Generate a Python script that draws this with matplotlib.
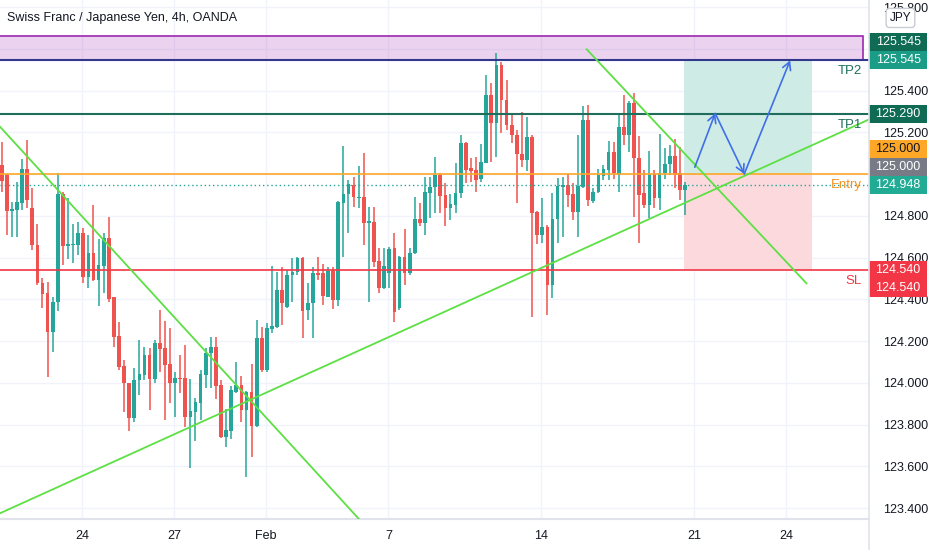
import numpy as np
import matplotlib.pyplot as plt
from matplotlib.patches import Rectangle
import matplotlib.transforms as mtransforms

plt.rcParams['font.family'] = ['Liberation Sans', 'DejaVu Sans']

# CHF/JPY 4h bars, index = bar number
opens = [125.044, 124.996, 124.824, 124.828, 124.863, 125.023, 124.836, 124.661, 124.480, 124.429,
         124.246, 124.389, 124.905, 124.656, 124.659, 124.661, 124.720, 124.509, 124.621, 124.493,
         124.560, 124.693, 124.410, 124.225, 124.081, 123.999, 123.831, 124.014, 124.038, 124.134,
         124.018, 124.193, 124.167, 124.091, 124.001, 124.025, 124.022, 123.838, 123.862, 123.906,
         124.038, 124.142, 124.171, 123.990, 123.743, 123.771, 123.958, 123.990, 123.871, 123.958,
         123.794, 124.214, 124.062, 124.257, 124.269, 124.445, 124.365, 124.517, 124.533, 124.597,
         124.349, 124.382, 124.528, 124.525, 124.413, 124.538, 124.397, 124.863, 124.905, 124.948,
         124.884, 124.889, 124.768, 124.772, 124.586, 124.453, 124.528, 124.645, 124.358, 124.602,
         124.528, 124.621, 124.784, 124.765, 124.911, 124.937, 124.996, 124.900, 124.836, 124.852,
         124.908, 125.151, 125.028, 125.020, 124.975, 125.055, 125.379, 125.244, 125.523, 125.355,
         125.235, 125.188, 125.097, 125.068, 125.177, 124.820, 124.709, 124.748, 124.469, 124.784,
         124.940, 124.948, 124.905, 124.820, 124.940, 125.259, 124.873, 124.916, 124.991, 125.020,
         125.108, 124.996, 125.227, 125.188, 125.339, 125.076, 124.908, 124.852, 125.001, 124.884,
         125.007, 125.049, 125.087, 125.004, 124.924]
highs = [125.155, 125.000, 124.868, 124.964, 125.073, 125.164, 124.932, 124.761, 124.501, 124.485,
         124.413, 125.007, 124.916, 124.884, 124.761, 124.772, 124.741, 124.709, 124.852, 124.688,
         124.717, 124.796, 124.412, 124.293, 124.110, 124.002, 124.070, 124.206, 124.172, 124.167,
         124.206, 124.349, 124.297, 124.263, 124.054, 124.134, 124.182, 124.018, 123.928, 124.062,
         124.167, 124.219, 124.219, 124.014, 123.874, 123.985, 124.102, 124.033, 123.960, 124.091,
         124.302, 124.267, 124.289, 124.560, 124.533, 124.557, 124.541, 124.597, 124.605, 124.605,
         124.477, 124.557, 124.605, 124.570, 124.557, 124.557, 124.870, 125.135, 124.972, 124.985,
         125.039, 125.103, 124.844, 124.844, 124.645, 124.645, 124.650, 124.720, 124.608, 124.736,
         124.645, 124.889, 124.860, 124.988, 124.988, 125.081, 125.004, 124.959, 124.905, 125.052,
         125.188, 125.155, 125.076, 125.081, 125.144, 125.475, 125.435, 125.582, 125.539, 125.451,
         125.283, 125.211, 125.299, 125.275, 125.188, 124.825, 124.884, 124.757, 124.908, 124.980,
         124.988, 125.001, 124.956, 125.188, 125.326, 125.331, 124.932, 125.023, 125.044, 125.160,
         125.155, 125.283, 125.379, 125.352, 125.387, 125.183, 125.020, 125.112, 125.020, 125.192,
         125.124, 125.140, 125.167, 125.131, 124.964]
lows = [124.916, 124.709, 124.700, 124.700, 124.828, 124.836, 124.637, 124.470, 124.358, 124.027,
        124.150, 124.346, 124.565, 124.592, 124.576, 124.613, 124.480, 124.453, 124.490, 124.369,
        124.429, 124.389, 124.174, 124.062, 123.862, 123.771, 123.815, 123.942, 124.014, 123.871,
        123.999, 124.054, 123.823, 123.904, 123.838, 123.952, 123.790, 123.591, 123.720, 123.823,
        123.976, 123.974, 123.922, 123.736, 123.695, 123.730, 123.950, 123.815, 123.551, 123.644,
        123.790, 124.054, 124.054, 124.238, 124.262, 124.278, 124.360, 124.389, 124.517, 124.214,
        124.302, 124.214, 124.493, 124.373, 124.410, 124.353, 124.369, 124.605, 124.717, 124.844,
        124.836, 124.661, 124.389, 124.557, 124.429, 124.450, 124.453, 124.293, 124.349, 124.469,
        124.517, 124.618, 124.752, 124.709, 124.789, 124.813, 124.815, 124.752, 124.780, 124.815,
        124.884, 124.959, 124.964, 124.916, 124.964, 125.052, 125.060, 125.081, 125.196, 125.211,
        125.148, 124.863, 125.036, 125.017, 124.314, 124.666, 124.669, 124.326, 124.405, 124.669,
        124.700, 124.844, 124.780, 124.700, 124.932, 124.847, 124.863, 124.911, 124.972, 124.972,
        124.975, 124.916, 125.140, 125.108, 124.796, 124.669, 124.836, 124.789, 124.836, 124.828,
        124.975, 124.996, 124.932, 124.876, 124.804]
closes = [124.969, 124.825, 124.833, 124.868, 125.023, 124.876, 124.661, 124.477, 124.426, 124.246,
          124.389, 124.905, 124.656, 124.666, 124.666, 124.720, 124.509, 124.621, 124.493, 124.565,
          124.693, 124.401, 124.222, 124.078, 123.998, 123.832, 124.014, 124.042, 124.134, 124.018,
          124.193, 124.161, 124.086, 124.001, 124.025, 124.018, 123.838, 123.867, 123.910, 124.042,
          124.145, 124.171, 123.985, 123.743, 123.775, 123.966, 123.990, 123.871, 123.958, 123.794,
          124.214, 124.062, 124.262, 124.273, 124.445, 124.382, 124.517, 124.533, 124.597, 124.346,
          124.382, 124.525, 124.517, 124.416, 124.538, 124.397, 124.868, 124.905, 124.953, 124.892,
          124.892, 124.765, 124.776, 124.581, 124.453, 124.560, 124.640, 124.341, 124.602, 124.528,
          124.621, 124.784, 124.765, 124.916, 124.937, 124.996, 124.895, 124.836, 124.857, 124.911,
          125.151, 125.020, 125.017, 124.972, 125.060, 125.379, 125.244, 125.523, 125.355, 125.235,
          125.188, 125.097, 125.068, 125.177, 124.815, 124.709, 124.748, 124.469, 124.784, 124.943,
          124.948, 124.900, 124.820, 124.943, 125.259, 124.876, 124.916, 124.996, 125.023, 125.108,
          125.004, 125.227, 125.188, 125.339, 125.076, 124.900, 124.852, 125.001, 124.884, 125.007,
          125.049, 125.087, 124.996, 124.924, 124.948]

# date labels on the time axis (bar positions)
date_ticks = [15.84, 33.84, 51.84, 75.84, 105.84, 135.84, 153.84]
date_labels = ['24', '27', 'Feb', '7', '14', '21', '24']
price_grid = [123.4, 123.6, 123.8, 124.0, 124.2, 124.4, 124.6, 124.8, 125.0, 125.2, 125.4, 125.6, 125.8]
# scale labels not hidden under the price tags
price_labels = [123.4, 123.6, 123.8, 124.0, 124.2, 124.4, 124.6, 124.8, 125.2, 125.4, 125.8]

# trade levels
tp2 = 125.545
tp1 = 125.290
entry = 125.000
last_price = 124.948
sl = 124.540
zone_top = 125.662
zone_right = 168.9
rr_left, rr_right = 133.8, 158.8

# drawings: (bar, price) anchors
trend_down1 = [(-0.33, 125.227), (70.1, 123.347)]
trend_up = [(-0.33, 123.376), (170.06, 125.262)]
trend_down2 = [(114.7, 125.598), (157.8, 124.477)]
path_bars = [135.9, 139.9, 145.6, 154.6]
path_prices = [125.033, 125.291, 125.001, 125.545]

UP = '#26a69a'
DOWN = '#ef5350'
TXT = '#131722'
GREEN = '#5ce043'

fig = plt.figure(figsize=(9.32, 5.5), dpi=100)
ax = fig.add_axes([0, 30.7 / 550, 869 / 932, 519.3 / 550])
ax.set_xlim(-0.333, 170.06)
ax.set_ylim(123.347, 125.834)

# candles
x = np.arange(len(opens))
o = np.array(opens); c = np.array(closes)
cols = [UP if cc >= oo else DOWN for oo, cc in zip(o, c)]
ax.vlines(x, lows, highs, colors=cols, lw=1.1, zorder=3)
body = np.maximum(np.abs(c - o), 0.005)
ax.bar(x, body, bottom=np.minimum(o, c), width=0.72, color=cols, lw=0, zorder=3)

# zone on top
ax.add_patch(Rectangle((-1, tp2), zone_right + 1, zone_top - tp2,
                       fc=(0.61, 0.15, 0.69, 0.2), ec='#9c27b0', lw=1.2, zorder=2))

# long position box
ax.add_patch(Rectangle((rr_left, entry), rr_right - rr_left, tp2 - entry,
                       fc='#cfebe6', ec='none', zorder=1))
ax.add_patch(Rectangle((rr_left, sl), rr_right - rr_left, entry - sl,
                       fc='#fcd9dc', ec='none', zorder=1))

# horizontal levels
ax.axhline(tp2, color='#32398c', lw=1.5, zorder=4)
ax.axhline(tp1, color='#1f6e5c', lw=1.5, zorder=4)
ax.axhline(entry, color='#ffa726', lw=1.2, zorder=4)
ax.axhline(sl, color='#f23645', lw=1.2, zorder=4)
ax.axhline(last_price, color=UP, lw=1, ls=(0, (1, 2)), zorder=4)

# trend lines
for ln in (trend_down1, trend_up, trend_down2):
    ax.plot([ln[0][0], ln[1][0]], [ln[0][1], ln[1][1]], color=GREEN, lw=1.3, zorder=5)

# projected path
for i in range(len(path_bars) - 1):
    ax.annotate('', xy=(path_bars[i + 1], path_prices[i + 1]),
                xytext=(path_bars[i], path_prices[i]),
                arrowprops=dict(arrowstyle='->,head_length=0.55,head_width=0.3',
                                color='#3f6fe6', lw=1.2, shrinkA=0, shrinkB=0), zorder=6)

# level tags near right edge
tr = mtransforms.blended_transform_factory(ax.transAxes, ax.transData)
for lbl, lev, col in [('TP2', tp2, '#1f6e5c'), ('TP1', tp1, '#1f6e5c'),
                      ('Entry', entry, '#f5921e'), ('SL', sl, '#f23645')]:
    ax.text(0.992, lev - 0.053, lbl, transform=tr, ha='right', va='center',
            fontsize=9.5, color=col, zorder=6)

# grid / axes
ax.set_xticks(date_ticks)
ax.set_xticklabels(date_labels)
ax.set_yticks(price_grid)
ax.set_yticklabels([f'{p:.3f}' if p in price_labels else '' for p in price_grid])
ax.yaxis.tick_right()
ax.grid(True, color='#f0f3fa', lw=1, zorder=0)
ax.set_axisbelow(True)
ax.tick_params(axis='x', length=0, pad=8, labelsize=9, labelcolor=TXT)
ax.tick_params(axis='y', length=0, pad=10, labelsize=9, labelcolor=TXT)
for s in ('top', 'left', 'right'):
    ax.spines[s].set_visible(False)
ax.spines['bottom'].set_color('#e0e3eb')
ax.spines['bottom'].set_linewidth(1.5)
fig.add_artist(plt.Line2D([869 / 932, 869 / 932], [0, 1], color='#e0e3eb', lw=1.2))

# price tags on the scale
box_h = 18 / 208.8
tags = [
    (tp2, 1, '125.545', '#106b55', 'white'),
    (tp2, 0, '125.545', '#1a9c86', 'white'),
    (tp1, 0, '125.290', '#106b55', 'white'),
    (last_price, 2, '125.000', '#ffa726', TXT),
    (last_price, 1, '125.000', '#787b86', 'white'),
    (last_price, 0, '124.948', '#22ab94', 'white'),
    (sl, 0, '124.540', '#f23645', 'white'),
    (sl, -1, '124.540', '#f23645', 'white'),
]
for lev, k, txt, fc, tc in tags:
    yc = lev + k * box_h
    ax.add_patch(Rectangle((1.0, yc - box_h / 2), 0.0667, box_h, transform=tr,
                           fc=fc, ec='none', clip_on=False, zorder=7))
    ax.text(1.0335, yc, txt, transform=tr, ha='center', va='center',
            fontsize=9, color=tc, zorder=8, clip_on=False)

ax.text(1.0362, 125.748, 'JPY', transform=tr, ha='center', va='center', fontsize=8.5,
        color=TXT, zorder=8, clip_on=False,
        bbox=dict(boxstyle='round,pad=0.3', fc='white', ec='#c9ccd4', lw=1))

fig.text(7 / 932, 1 - 18 / 550, 'Swiss Franc / Japanese Yen, 4h, OANDA',
         fontsize=9, color=TXT, va='center', ha='left')

fig.savefig('out.png', dpi=100, facecolor='white')
